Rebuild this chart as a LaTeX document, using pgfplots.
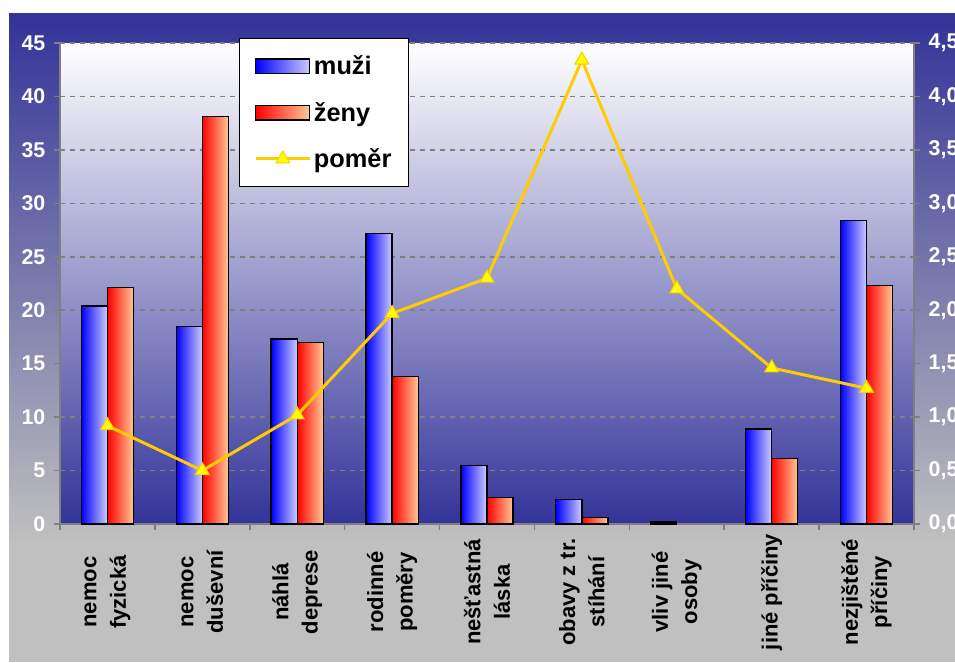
\documentclass[border=0pt]{standalone}
\usepackage{fontspec}
\setmainfont{Liberation Sans}
\usepackage{pgfplots}
\pgfplotsset{compat=1.18}
\definecolor{navy}{RGB}{51,51,153}
\definecolor{midbg}{RGB}{168,168,208}
\definecolor{silv}{RGB}{192,192,192}
\definecolor{bl}{RGB}{0,0,255}
\definecolor{bll}{RGB}{204,204,255}
\definecolor{rd}{RGB}{255,0,0}
\definecolor{rdl}{RGB}{255,200,150}
\definecolor{gold}{RGB}{255,204,0}
\definecolor{yel}{RGB}{255,255,0}
\definecolor{axgray}{RGB}{128,128,128}
\pgfplotsset{
  mbar/.style={ybar, bar width=0.275, bar shift=-0.1375, draw=black, line width=1pt, left color=bl, right color=bll, forget plot},
  zbar/.style={ybar, bar width=0.275, bar shift=0.1375, draw=black, line width=1pt, left color=rd, right color=rdl, forget plot},
}
\begin{document}
\begin{tikzpicture}
\clip (0,0) rectangle (716.25pt,496.5pt);
\fill[white] (0,0) rectangle (716.25pt,496.5pt);
\fill[silv] (6.75pt,0) rectangle (720pt,90pt);
\shade[top color=navy, bottom color=silv] (6.75pt,89.5pt) rectangle (720pt,486pt);
\begin{axis}[
  at={(45pt,103.5pt)}, anchor=south west, scale only axis,
  width=640.5pt, height=360.75pt,
  xmin=-0.5, xmax=8.5, ymin=0, ymax=45,
  axis background/.style={top color=white, middle color=midbg, bottom color=navy},
  axis x line*=bottom, axis y line*=left,
  axis line style={axgray, line width=1.2pt, -},
  ytick={0,5,10,15,20,25,30,35,40,45},
  ymajorgrids,
  major grid style={axgray, dash pattern=on 4pt off 3.5pt, line width=1.2pt},
  tick align=outside, major tick length=4.5pt,
  tick style={axgray, line width=1.2pt},
  yticklabel style={white, font=\bfseries\fontsize{16}{18}\selectfont, xshift=-3pt},
  /pgf/number format/assume math mode=true,
  xtick={-0.5,0.5,1.5,2.5,3.5,4.5,5.5,6.5,7.5,8.5},
  x tick label as interval,
  xticklabels={nemoc\\fyzická, nemoc\\duševní, náhlá\\deprese, rodinné\\poměry, nešťastná\\láska, obavy z tr.\\stíhání, vliv jiné\\osoby, jiné příčiny, nezjištěné\\příčiny},
  xticklabel style={black, font=\bfseries\fontsize{16.5}{22}\selectfont, align=center, anchor=center, yshift=-46.5pt, rotate=90},
  legend style={at={(0.2096,1.0104)}, anchor=north west, draw=black, line width=1pt, fill=white,
    font=\bfseries\fontsize{19}{22}\selectfont, row sep=15pt, inner xsep=11pt, inner ysep=11pt,
    /tikz/every even column/.append style={column sep=5pt}},
  legend cell align=left,
]
\addlegendimage{legend image code/.code={\draw[black, line width=1pt, left color=bl, right color=bll] (0pt,-5.5pt) rectangle (40.5pt,5.5pt);}}
\addlegendentry{muži}
\addlegendimage{legend image code/.code={\draw[black, line width=1pt, left color=rd, right color=rdl] (0pt,-5.5pt) rectangle (40.5pt,5.5pt);}}
\addlegendentry{ženy}
\addlegendimage{legend image code/.code={\draw[gold, line width=2.25pt] (0pt,0pt) -- (40.5pt,0pt); \draw[fill=yel, draw=gold, line width=0.75pt] plot[mark=triangle*, mark size=6pt] coordinates {(20.25pt,0pt)};}}
\addlegendentry{poměr}
% muži
\addplot[mbar] coordinates {(0,20.4)};
\addplot[mbar] coordinates {(1,18.5)};
\addplot[mbar] coordinates {(2,17.3)};
\addplot[mbar] coordinates {(3,27.2)};
\addplot[mbar] coordinates {(4,5.5)};
\addplot[mbar] coordinates {(5,2.3)};
\addplot[mbar] coordinates {(6,0.2)};
\addplot[mbar] coordinates {(7,8.9)};
\addplot[mbar] coordinates {(8,28.4)};
% ženy
\addplot[zbar] coordinates {(0,22.1)};
\addplot[zbar] coordinates {(1,38.1)};
\addplot[zbar] coordinates {(2,17.0)};
\addplot[zbar] coordinates {(3,13.8)};
\addplot[zbar] coordinates {(4,2.5)};
\addplot[zbar] coordinates {(5,0.6)};
\addplot[zbar] coordinates {(7,6.1)};
\addplot[zbar] coordinates {(8,22.3)};
\end{axis}
\begin{axis}[
  at={(45pt,103.5pt)}, anchor=south west, scale only axis,
  width=640.5pt, height=360.75pt,
  xmin=-0.5, xmax=8.5, ymin=0, ymax=4.5,
  axis x line=none, axis y line*=right,
  axis line style={axgray, line width=1.2pt, -},
  ytick={0,0.5,1,1.5,2,2.5,3,3.5,4,4.5},
  tick align=outside, major tick length=4.5pt,
  tick style={axgray, line width=1.2pt},
  yticklabel style={white, font=\bfseries\fontsize{16}{18}\selectfont, xshift=3pt,
    /pgf/number format/.cd, fixed, fixed zerofill, precision=1, use comma},
  /pgf/number format/assume math mode=true,
]
\addplot[gold, line width=2.25pt, mark=triangle*, mark size=6pt, mark options={fill=yel, draw=gold, line width=0.75pt}]
  coordinates {(0,0.92) (1,0.50) (2,1.02) (3,1.97) (4,2.30) (5,4.34) (6,2.20) (7,1.46) (8,1.27)};
\end{axis}
\end{tikzpicture}
\end{document}
